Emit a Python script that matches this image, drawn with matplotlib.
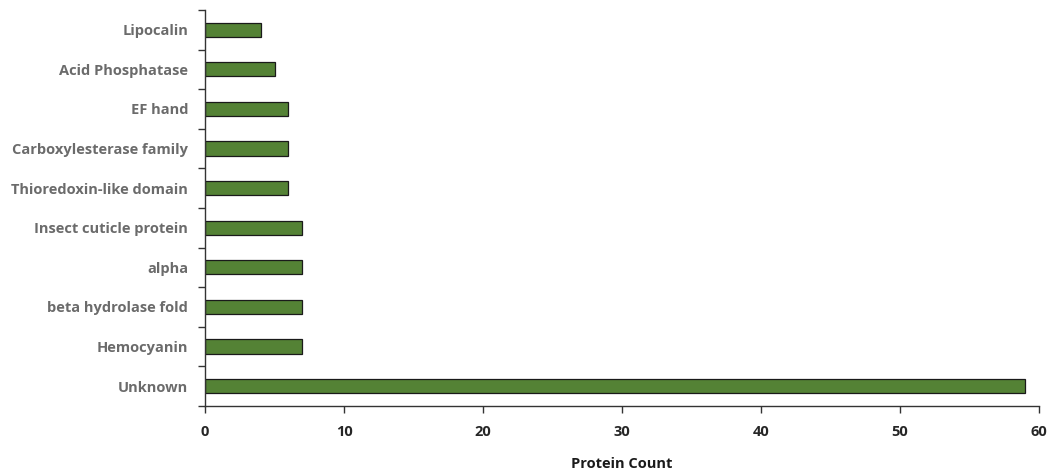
import numpy as np
import matplotlib
matplotlib.use("Agg")
import matplotlib.pyplot as plt
from matplotlib.ticker import FixedLocator

# Données (de bas en haut)
categories = [
    "Unknown",
    "Hemocyanin",
    "beta hydrolase fold",
    "alpha",
    "Insect cuticle protein",
    "Thioredoxin-like domain",
    "Carboxylesterase family",
    "EF hand",
    "Acid Phosphatase",
    "Lipocalin",
]
counts = [59, 7, 7, 7, 7, 6, 6, 6, 5, 4]
x_ticks = [0, 10, 20, 30, 40, 50, 60]

plt.rcParams["font.family"] = ["Open Sans", "DejaVu Sans"]

fig = plt.figure(figsize=(10.52, 4.72), dpi=100)
ax = fig.add_axes([0.1949, 0.14, 0.7927, 0.839])

y = np.arange(len(categories))
ax.barh(y, counts, height=0.36, color="#548235", edgecolor="#1a1a1a", linewidth=0.9)

ax.set_xlim(0, 60)
ax.set_ylim(-0.5, len(categories) - 0.5)
ax.set_xticks(x_ticks)
ax.set_xticklabels([str(t) for t in x_ticks], fontsize=10.5, fontweight="bold", color="#262626")

ax.set_yticks(y)
ax.set_yticklabels(categories, fontsize=10.5, fontweight="bold", color="#6b6b6b")
ax.tick_params(axis="y", which="major", length=0, pad=12)
ax.yaxis.set_minor_locator(FixedLocator(np.arange(-0.5, len(categories), 1.0)))
ax.tick_params(axis="y", which="minor", length=5, width=1, color="#333333")
ax.tick_params(axis="x", length=5, width=1, color="#333333", pad=9)

for s in ["top", "right"]:
    ax.spines[s].set_visible(False)
for s in ["left", "bottom"]:
    ax.spines[s].set_color("#333333")
    ax.spines[s].set_linewidth(1)

ax.set_xlabel("Protein Count", fontsize=10.5, fontweight="bold", color="#1a1a1a", labelpad=13)

fig.savefig("out.png", dpi=100)
